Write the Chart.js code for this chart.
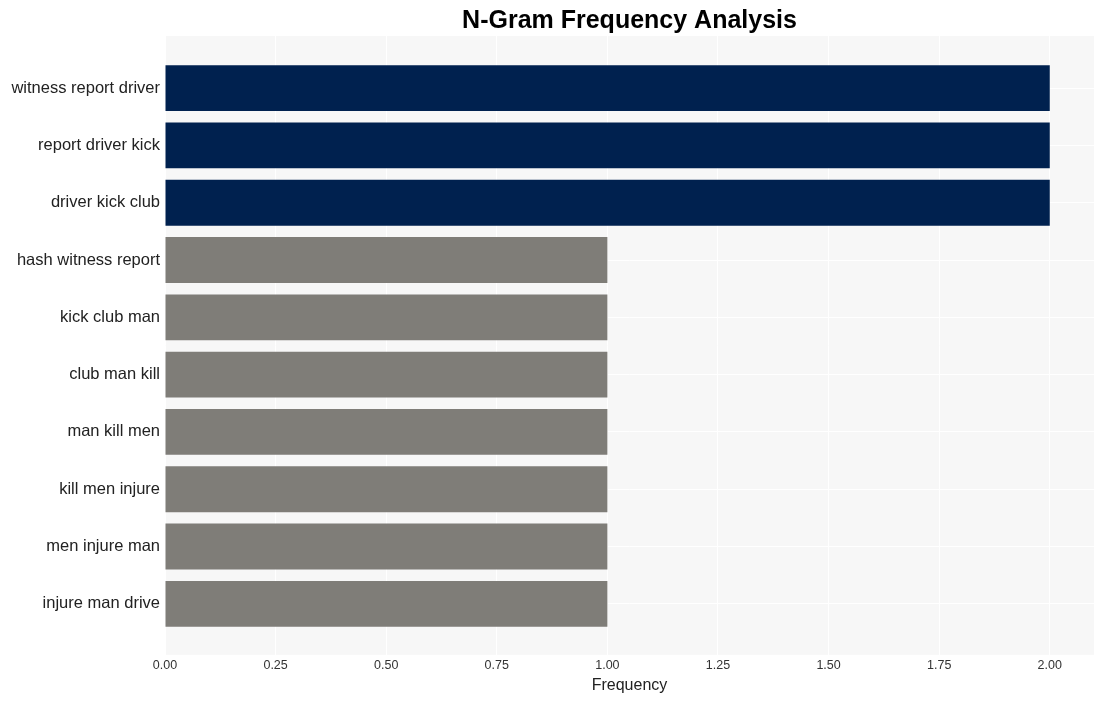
<!DOCTYPE html>
<html><head><meta charset="utf-8">
<script src="https://cdn.jsdelivr.net/npm/chart.js@4/dist/chart.umd.min.js"></script>
<style>html,body{margin:0;padding:0;background:#fff}#wrap{width:1105px;height:701px}</style>
</head><body><div id="wrap"><canvas id="c" width="1105" height="701"></canvas></div>
<script>
const categories = ["witness report driver","report driver kick","driver kick club","hash witness report","kick club man","club man kill","man kill men","kill men injure","men injure man","injure man drive"];
const frequency = [2,2,2,1,1,1,1,1,1,1];
const xTicks = [0,0.25,0.5,0.75,1,1.25,1.5,1.75,2];
const barColors = frequency.map(v => v >= 2 ? "#00214f" : "#7f7d78");

const bgPlugin = {
  id: 'bg',
  beforeDraw(chart) {
    const a = chart.chartArea, ctx = chart.ctx;
    ctx.save(); ctx.fillStyle = '#f7f7f7';
    ctx.fillRect(a.left, a.top, a.right - a.left, a.bottom - a.top);
    ctx.restore();
  }
};
const FONT = 'Liberation Sans, Arial, sans-serif';

new Chart(document.getElementById('c'), {
  type: 'bar',
  data: {
    datasets: [{
      data: frequency.map((v, i) => ({x: v, y: i})),
      backgroundColor: barColors,
      barPercentage: 0.8,
      categoryPercentage: 1.0
    }]
  },
  options: {
    indexAxis: 'y',
    responsive: false,
    animation: false,
    layout: {padding: {left: 0, right: 11, top: 3, bottom: 6}},
    plugins: {
      legend: {display: false},
      tooltip: {enabled: false},
      title: {
        display: true, text: 'N-Gram Frequency Analysis', fullSize: false,
        color: '#000', font: {family: FONT, size: 25, weight: 'bold'},
        padding: {top: 3, bottom: 0}
      }
    },
    scales: {
      x: {
        type: 'linear', min: 0, max: 2.1,
        afterBuildTicks: s => { s.ticks = xTicks.map(v => ({value: v})); },
        ticks: {callback: v => Number(v).toFixed(2), color: '#333', font: {family: FONT, size: 12.5}, padding: 3, maxRotation: 0},
        grid: {color: '#ffffff', lineWidth: 1, drawTicks: false},
        border: {display: false},
        title: {display: true, text: 'Frequency', color: '#222', font: {family: FONT, size: 16}, padding: {top: 0, bottom: 0}}
      },
      y: {
        type: 'linear', reverse: true, min: -0.91, max: 9.89, offset: false,
        afterBuildTicks: s => { s.ticks = categories.map((c, i) => ({value: i})); },
        afterFit: s => { s.width = 165; },
        ticks: {callback: v => categories[v], color: '#222', font: {family: FONT, size: 16.5}, padding: 5},
        grid: {color: '#ffffff', lineWidth: 1, drawTicks: false, offset: false},
        border: {display: false}
      }
    }
  },
  plugins: [bgPlugin]
});
</script></body></html>
